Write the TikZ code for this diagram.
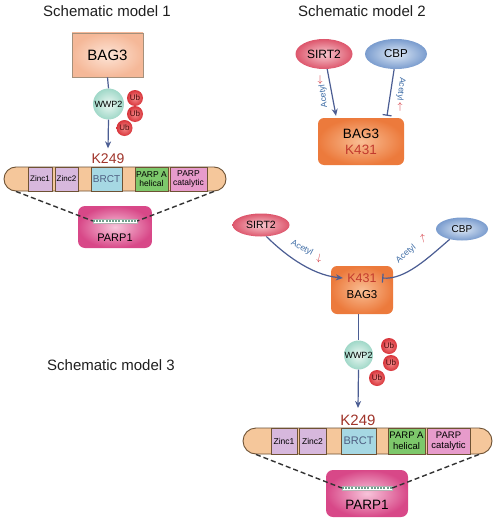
\documentclass[tikz,border=0pt]{standalone}
\usepackage{fontspec}
\setmainfont{Liberation Sans}
\usetikzlibrary{arrows.meta,shapes.geometric,shapes.misc}
\definecolor{lineblue}{HTML}{4B5D93}
\definecolor{kbrown}{HTML}{A0342A}
\definecolor{kred}{HTML}{C23A2E}
\definecolor{acblue}{HTML}{3C6BA5}
\definecolor{redarr}{HTML}{D0202A}
\definecolor{barfill}{HTML}{F5C79B}
\definecolor{barline}{HTML}{6E5234}
\definecolor{zinc}{HTML}{D7B8DD}
\definecolor{brct}{HTML}{A6D8E3}
\definecolor{helical}{HTML}{7DC86B}
\definecolor{catal}{HTML}{E79BCB}
\definecolor{brcttext}{HTML}{4F5F82}
\newcommand{\myfs}[1]{\fontsize{#1}{#1}\selectfont}
\tikzset{
  title/.style={font=\myfs{15}, text=black!88},
  conn/.style={draw=lineblue, line width=1.2pt},
  arr/.style={conn, -{Stealth[length=7pt,width=6pt]}},
  inh/.style={conn, -{Bar[width=9pt,line width=1.2pt]}},
  bagpeach/.style={draw=black!45!brown!60, line width=0.6pt, inner color={rgb,255:red,253;green,228;blue,214}, outer color={rgb,255:red,245;green,184;blue,152}},
  bagorange/.style={rounded corners=6pt, inner color={rgb,255:red,249;green,190;blue,148}, outer color={rgb,255:red,236;green,122;blue,60}},
  wwp/.style={circle, inner sep=0pt, inner color={rgb,255:red,236;green,248;blue,243}, outer color={rgb,255:red,160;green,216;blue,200}, font=\myfs{9}},
  ub/.style={circle, inner sep=0pt, minimum size=16pt, inner color={rgb,255:red,246;green,140;blue,140}, outer color={rgb,255:red,216;green,52;blue,58}, font=\myfs{8}, text={rgb,255:red,70;green,10;blue,10}},
  sirt/.style={ellipse, inner sep=0pt, inner color={rgb,255:red,247;green,200;blue,207}, outer color={rgb,255:red,221;green,86;blue,108}},
  cbp/.style={ellipse, inner sep=0pt, inner color={rgb,255:red,222;green,233;blue,246}, outer color={rgb,255:red,122;green,156;blue,206}},
  kk/.style={inner sep=0.5pt, text=kbrown},
  bar/.style={rounded rectangle, draw=barline, line width=0.9pt, fill=barfill, inner sep=0pt},
  dom/.style={draw=barline, line width=0.6pt, inner sep=0pt, align=center},
  parp/.style={rounded corners=7pt, inner color={rgb,255:red,247;green,196;blue,218}, outer color={rgb,255:red,216;green,72;blue,136}},
  strip/.style={draw=gray!60, fill=white, minimum height=3.5pt, inner sep=0pt, line width=0.4pt},
  stripfill/.style={draw={rgb,255:red,110;green,160;blue,140}, line width=1.5pt, dash pattern=on 2pt off 1.2pt},
  dashline/.style={draw=black!80, line width=1.4pt, dash pattern=on 5pt off 3pt},
  acet/.style={inner sep=0.3pt, font=\myfs{8.5}, text=acblue},
  redar/.style={inner sep=0pt, text=redarr, font=\myfs{10}},
}
\begin{document}
\begin{tikzpicture}[x=1pt,y=-1pt]
\useasboundingbox (0,0) rectangle (500,519);
\fill[white] (0,0) rectangle (500,519);

% ---------------- Model 1 ----------------
\node[title] (t1) at (107,11) {Schematic model 1};
\node[bagpeach, minimum width=71pt, minimum height=44pt] (b1) at (107.5,55) {\myfs{15}BAG3};
\node[wwp, minimum size=31pt] (w1) at (108.5,104) {WWP2};
\node[ub] (u1a) at (135,98) {Ub};
\node[ub] (u1b) at (135,114) {Ub};
\node[ub] (u1c) at (124.5,128) {Ub};
\node[kk, font=\myfs{14}] (k1) at (108,159) {K249};
\draw[conn] (b1.south) -- (w1.north);
\draw[arr] (w1.south) -- ([yshift=5pt]k1.north);

\node[bar, minimum width=222pt, minimum height=24pt] (bar1) at (115,179) {};
\node[dom, fill=zinc, minimum width=24pt, minimum height=24pt, font=\myfs{8}] (z11) at (40,179) {Zinc1};
\node[dom, fill=zinc, minimum width=23pt, minimum height=24pt, font=\myfs{8}] (z12) at (66.5,179) {Zinc2};
\node[dom, fill=brct, minimum width=31pt, minimum height=24pt, font=\myfs{10}, text=brcttext] (br1) at (106.5,179) {BRCT};
\node[dom, fill=helical, minimum width=33pt, minimum height=24pt, font=\fontsize{8.5}{9.5}\selectfont] (h1) at (151.5,179) {PARP A\\helical};
\node[dom, fill=catal, minimum width=37pt, minimum height=24pt, font=\fontsize{8.5}{9.5}\selectfont] (c1) at (188.5,179) {PARP\\catalytic};

\node[parp, minimum width=74pt, minimum height=42pt] (p1) at (115,227) {};
\node[font=\myfs{11}] (pt1) at (115,238) {PARP1};
\node[strip, minimum width=44pt] (st1) at (115,221) {};
\draw[stripfill] (st1.west) -- (st1.east);
\draw[dashline] (bar1.south west) -- (st1.west);
\draw[dashline] (bar1.south east) -- (st1.east);

% ---------------- Model 2 ----------------
\node[title] (t2) at (362,11) {Schematic model 2};
\node[sirt, minimum width=57pt, minimum height=30pt] (s2) at (324,54) {\myfs{12}SIRT2};
\node[cbp, minimum width=62pt, minimum height=30pt] (c2) at (396,54) {\myfs{11.5}CBP};
\node[bagorange, minimum width=86pt, minimum height=47pt] (b2) at (361,141.5) {};
\node[font=\myfs{13.5}] (b2t) at (361,134) {BAG3};
\node[font=\myfs{13.5}, text=kred] (b2k) at (361,150) {K431};
\draw[arr] (s2.-78) -- ([xshift=-25pt,yshift=2pt]b2.north);
\draw[inh] (c2.-97) -- ([xshift=26pt,yshift=2pt]b2.north);
\node[acet, rotate=97] (a2s) at (323.5,96) {Acetyl};
\node[redar] (r2s) at (320,80) {$\downarrow$};
\node[acet, rotate=-97] (a2c) at (401,89) {Acetyl};
\node[redar] (r2c) at (400,107) {$\uparrow$};

% ---------------- Model 3 ----------------
\node[title] (t3) at (111,365) {Schematic model 3};
\node[sirt, minimum width=57pt, minimum height=23pt] (s3) at (261,225) {\myfs{10.5}SIRT2};
\node[cbp, minimum width=52pt, minimum height=23pt] (c3) at (462,229) {\myfs{10}CBP};
\node[bagorange, minimum width=62pt, minimum height=48pt] (b3) at (362,290) {};
\node[font=\myfs{12.5}, text=kred] (b3k) at (362,278) {K431};
\node[font=\myfs{11.5}] (b3t) at (362,295) {BAG3};
\draw[arr] (s3.-65) .. controls (282,252) and (310,275) .. ([xshift=-1pt]b3k.west);
\draw[inh] (c3.-140) .. controls (428,258) and (405,280) .. ([xshift=2pt]b3k.east);
\node[acet, rotate=-27] (a3s) at (302,248) {Acetyl};
\node[redar, rotate=-10] (r3s) at (319,258) {$\downarrow$};
\node[acet, rotate=40] (a3c) at (406,254) {Acetyl};
\node[redar, rotate=10] (r3c) at (423,239) {$\uparrow$};

\node[wwp, minimum size=29pt] (w3) at (358.5,355) {WWP2};
\node[ub] (u3a) at (389,346) {Ub};
\node[ub] (u3b) at (391,363) {Ub};
\node[ub] (u3c) at (377,378) {Ub};
\node[kk, font=\myfs{15}] (k3) at (358,420) {K249};
\draw[conn] (b3.south -| w3) -- (w3.north);
\draw[arr] (w3.south) -- ([yshift=6pt]k3.north);

\node[bar, minimum width=249pt, minimum height=26pt] (bar3) at (367.5,441) {};
\node[dom, fill=zinc, minimum width=26pt, minimum height=26pt, font=\myfs{8.5}] (z31) at (284,441) {Zinc1};
\node[dom, fill=zinc, minimum width=27pt, minimum height=26pt, font=\myfs{8.5}] (z32) at (312.5,441) {Zinc2};
\node[dom, fill=brct, minimum width=35pt, minimum height=26pt, font=\myfs{11}, text=brcttext] (br3) at (358.5,441) {BRCT};
\node[dom, fill=helical, minimum width=37pt, minimum height=26pt, font=\fontsize{9.5}{10.5}\selectfont] (h3) at (406.5,441) {PARP A\\helical};
\node[dom, fill=catal, minimum width=43pt, minimum height=26pt, font=\fontsize{9.5}{10.5}\selectfont] (c3d) at (448.5,441) {PARP\\catalytic};

\node[parp, minimum width=82pt, minimum height=47pt] (p3) at (367,493.5) {};
\node[font=\myfs{13.5}] (pt3) at (367,505) {PARP1};
\node[strip, minimum width=50pt] (st3) at (367,488) {};
\draw[stripfill] (st3.west) -- (st3.east);
\draw[dashline] (bar3.south west) -- (st3.west);
\draw[dashline] (bar3.south east) -- (st3.east);
\end{tikzpicture}
\end{document}
